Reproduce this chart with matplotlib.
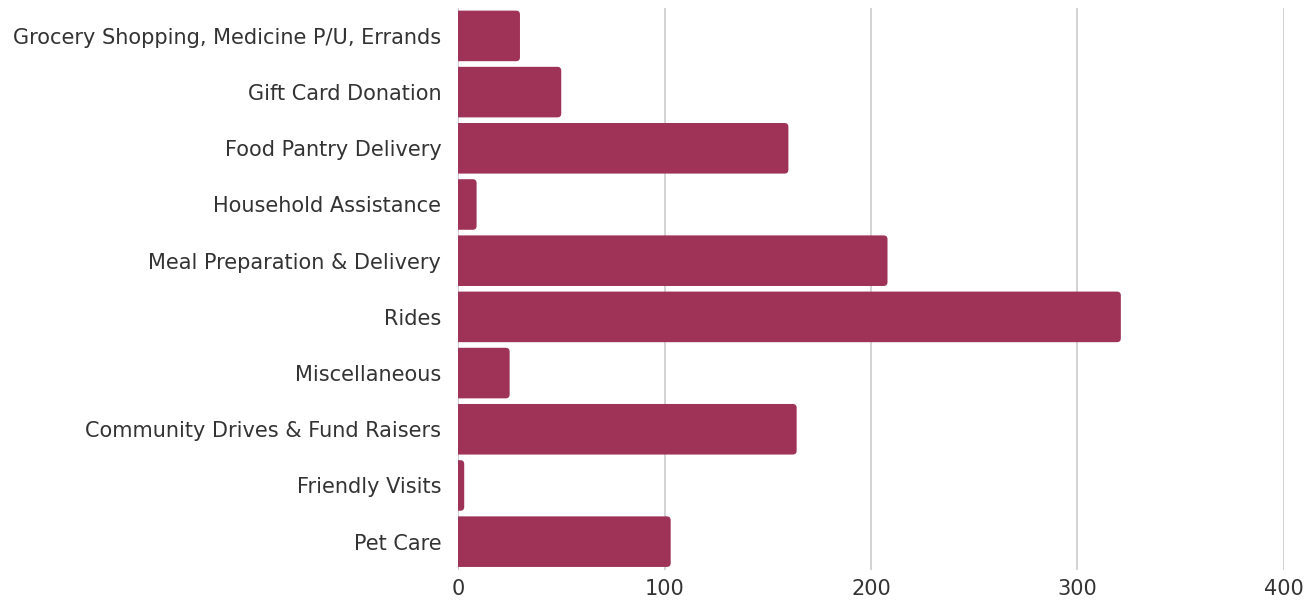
import matplotlib
matplotlib.use("Agg")
import matplotlib.pyplot as plt
from matplotlib.patches import FancyBboxPatch

categories = ["Grocery Shopping, Medicine P/U, Errands", "Gift Card Donation",
              "Food Pantry Delivery", "Household Assistance", "Meal Preparation & Delivery",
              "Rides", "Miscellaneous", "Community Drives & Fund Raisers",
              "Friendly Visits", "Pet Care"]
values = [30, 50, 160, 9, 208, 321, 25, 164, 3, 103]
xticks = [0, 100, 200, 300, 400]

fig = plt.figure(figsize=(13.15, 6.01), dpi=100)
ax = fig.add_axes([0.3483, 0.052, 0.6281, 0.935])
color = "#9E3257"
ypos = list(range(len(categories)))
bars = ax.barh(ypos, values, height=0.9, color=color, zorder=3)
ax.set_ylim(len(categories) - 0.5, -0.5)
ax.set_xlim(0, 400)

# rounded right corners
r = 1.9
aspect = 0.0367
for b in bars:
    b.set_visible(False)
    x0, y0 = b.get_x(), b.get_y()
    w, h = b.get_width(), b.get_height()
    p = FancyBboxPatch((x0 - 2 * r, y0), w + 2 * r, h,
                       boxstyle=f"round,pad=0,rounding_size={r}",
                       mutation_aspect=aspect, facecolor=color,
                       edgecolor="none", zorder=3, clip_on=True)
    ax.add_patch(p)

ax.set_xticks(xticks)
ax.set_yticks(ypos)
ax.set_yticklabels(categories)
ax.grid(axis="x", color="#cccccc", linewidth=1.2, zorder=0)
for s in ax.spines.values():
    s.set_visible(False)
ax.axvline(0, color="#cccccc", linewidth=1.2, zorder=1)
ax.tick_params(axis="y", length=0, labelsize=15, colors="#333333", pad=12)
ax.tick_params(axis="x", length=0, labelsize=15, colors="#333333", pad=7)
fig.savefig("out.png", dpi=100, facecolor="white")
